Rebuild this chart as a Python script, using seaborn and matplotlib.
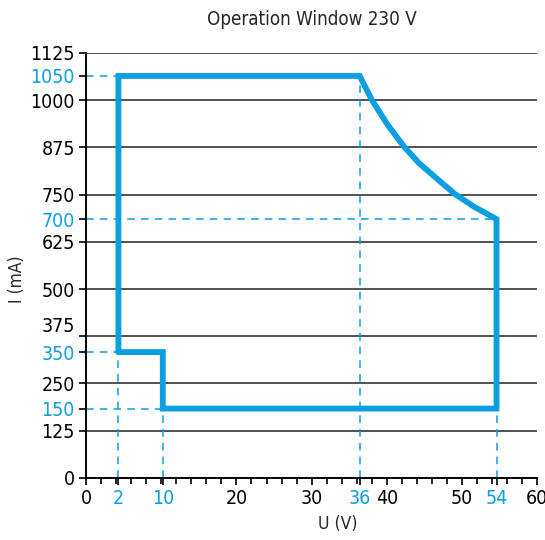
import matplotlib
matplotlib.use('Agg')
import matplotlib.pyplot as plt
from matplotlib.ticker import MultipleLocator
import pandas as pd
import seaborn as sns

# operating window outline (U in V, I in mA) as drawn in the reference
# (the reference places its marked levels schematically, not to scale)
window_u = [4.3, 4.3, 36.4, 38.0, 40.1, 42.3, 44.3, 47.2, 49.1, 51.6, 54.6, 54.6, 10.2, 10.2, 4.3]
window_i = [333, 1064, 1064, 1001, 935, 877, 833, 783, 751, 718, 685, 183.5, 183.5, 333, 333]

# corner points that get dashed guides to the axes
guide_h = [(4.3, 1064), (54.6, 685), (4.3, 333), (10.2, 183.5)]
guide_v = [(4.3, 333), (10.2, 183.5), (36.4, 1064), (54.6, 183.5)]

grid_levels = [125, 250, 375, 500, 625, 750, 875, 1000, 1125]
y_black = [0, 125, 250, 375, 500, 625, 750, 875, 1000, 1125]
y_blue = [183.5, 333, 685, 1064]
y_blue_labels = ['150', '350', '700', '1050']
y_nudged = 375  # label the reference lifts clear of "350"
x_black = [0, 20, 30, 40, 50, 60]
x_blue = [4.3, 10.2, 36.4, 54.6]
x_blue_labels = ['2', '10', '36', '54']

BLUE = '#0a9fe0'

sns.set_style('ticks')
plt.rcParams['font.family'] = ['DejaVu Sans']
plt.rcParams['font.stretch'] = 'condensed'

fig = plt.figure(figsize=(5.45, 5.40), dpi=100)
ax = fig.add_axes([0.158, 0.115, 0.8275, 0.787])

ax.hlines(grid_levels, 0, 60, color='#333333', lw=1.2, zorder=1)

for u, i in guide_h:
    ax.plot([0, u], [i, i], color=BLUE, lw=1.1, ls=(0, (5, 4)), zorder=2)
for u, i in guide_v:
    ax.plot([u, u], [0, i], color=BLUE, lw=1.1, ls=(0, (5, 4)), zorder=2)

df = pd.DataFrame({'U': window_u, 'I': window_i})
sns.lineplot(data=df, x='U', y='I', sort=False, estimator=None, color=BLUE,
             lw=4.2, ax=ax, zorder=3)
ax.lines[-1].set_solid_joinstyle('miter')

ax.set_xlim(0, 60)
ax.set_ylim(0, 1125)
sns.despine(ax=ax)

y_ticks = y_black + y_blue
y_labels = ['' if v == y_nudged else str(v) for v in y_black] + y_blue_labels
ax.set_yticks(y_ticks)
ax.set_yticklabels(y_labels)
for lab, v in zip(ax.get_yticklabels(), y_ticks):
    lab.set_color(BLUE if v in y_blue else 'black')
ax.annotate(str(y_nudged), xy=(0, y_nudged), xycoords=('axes fraction', 'data'),
            xytext=(-8, 7), textcoords='offset points', ha='right', va='center',
            fontsize=14, color='black')

x_ticks = x_black + x_blue
x_labels = [str(v) for v in x_black] + x_blue_labels
ax.set_xticks(x_ticks)
ax.set_xticklabels(x_labels)
for lab, v in zip(ax.get_xticklabels(), x_ticks):
    lab.set_color(BLUE if v in x_blue else 'black')
ax.xaxis.set_minor_locator(MultipleLocator(2))

ax.tick_params(axis='both', which='major', labelsize=14, length=5, width=1.2,
               color='black', pad=3)
ax.tick_params(axis='x', which='minor', length=4, width=1.2, color='black')
for s in ['left', 'bottom']:
    ax.spines[s].set_linewidth(1.4)
    ax.spines[s].set_color('black')

ax.set_xlabel('U (V)', fontsize=12.5, labelpad=5, x=0.557)
ax.set_ylabel('I (mA)', fontsize=12.5, labelpad=3, y=0.468)
ax.set_title('Operation Window 230 V', fontsize=13.5, pad=20)

fig.savefig('out.png', dpi=100)
